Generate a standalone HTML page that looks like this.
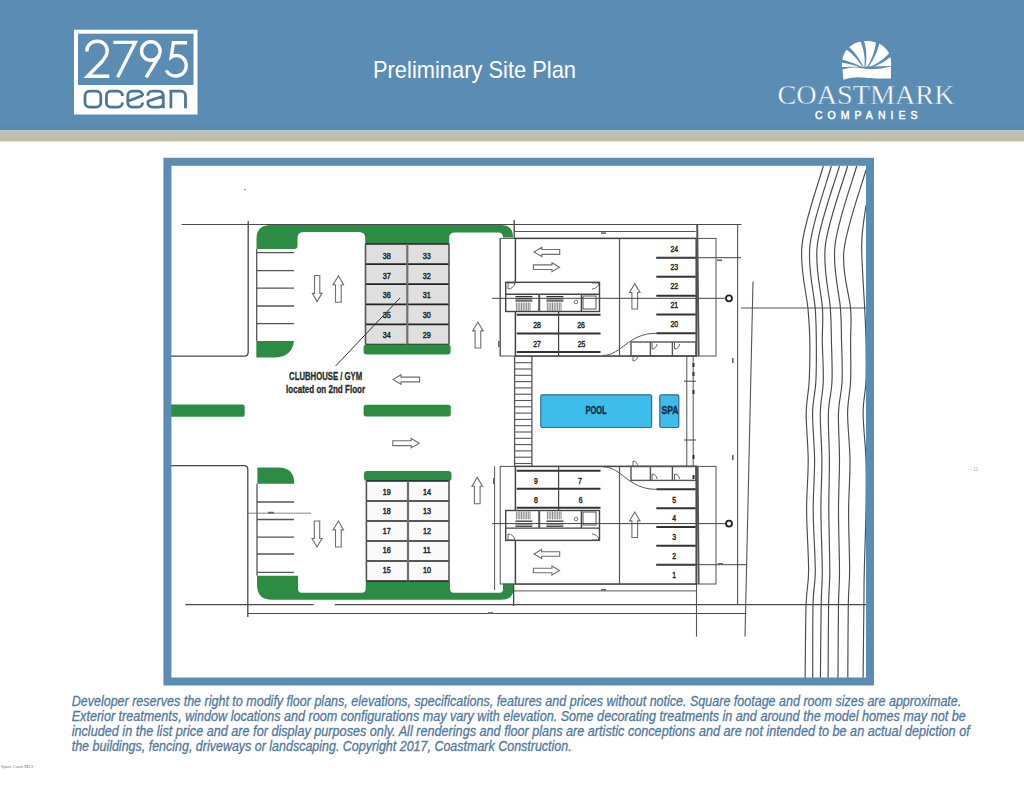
<!DOCTYPE html>
<html><head><meta charset="utf-8"><title>Preliminary Site Plan</title>
<style>
html,body{margin:0;padding:0;background:#fff;}
body{width:1024px;height:791px;overflow:hidden;position:relative;font-family:"Liberation Sans",sans-serif;}
svg{position:absolute;left:0;top:0;}
text{font-family:"Liberation Sans",sans-serif;}
.disc{position:absolute;left:0;top:0;}
</style></head><body>
<svg width="1024" height="791" viewBox="0 0 1024 791">
<rect x="0" y="0" width="1024" height="130" fill="#5b8db4"/>
<defs><linearGradient id="tg" x1="0" y1="0" x2="0" y2="1"><stop offset="0" stop-color="#b5c4b5"/><stop offset="0.45" stop-color="#c3bdb2"/><stop offset="1" stop-color="#bbbca0"/></linearGradient></defs>
<rect x="0" y="126" width="1024" height="4.4" fill="#578ab0"/>
<rect x="0" y="130.4" width="1024" height="11" fill="url(#tg)"/>
<rect x="74" y="29.7" width="123.5" height="84.8" fill="#fff"/>
<rect x="78" y="33.7" width="115.5" height="51.3" fill="#5b8db4"/>
<g fill="none" stroke="#fff" stroke-width="3.4" stroke-linecap="butt" stroke-linejoin="miter">
<path d="M86.8,51.5 C86.8,45 91.5,41.3 97.2,41.3 C103,41.3 107.2,45.5 107.2,51 C107.2,55 105,58 102,61.5 L87.5,76.3 H109.3"/>
<path d="M113.4,42.4 H135.2 L117.6,77.3"/>
<circle cx="150.8" cy="51" r="9.3"/>
<path d="M159.3,55.5 L146.2,77.3"/>
<path d="M187.1,42.7 H173.4 L171.2,57.2 C173,56 174.5,55.5 176.5,55.5 C182.2,55.5 186.2,60 186.2,65.8 C186.2,71.6 181.8,76 176,76 C171.5,76 168,73.5 166.2,70.5"/>
</g>
<g fill="none" stroke="#4b7898" stroke-width="2.8">
<rect x="85" y="91.1" width="15.8" height="16" rx="4.6"/>
<path d="M122.4,95.3 V96 C122.4,93 120.5,91.1 117.8,91.1 H111 C108.2,91.1 106.4,93 106.4,95.7 V102.5 C106.4,105.2 108.2,107.1 111,107.1 H117.8 C120.5,107.1 122.4,105.2 122.4,102.5"/>
<path d="M142.6,102.5 C142.6,105.2 140.8,107.1 138,107.1 H132.4 C129.6,107.1 127.8,105.2 127.8,102.5 V95.7 C127.8,93 129.6,91.1 132.4,91.1 H138 C140.8,91.1 142.6,93 142.6,95.7 V95.5 L127.8,101.2"/>
<path d="M147.8,95.7 C147.8,93 149.6,91.1 152.4,91.1 H158.6 C161.4,91.1 163.3,93 163.3,95.7 V108.3 M163.3,96.2 L148.5,101 C148,101.2 147.8,101.8 147.8,102.5 C147.8,105.2 149.6,107.1 152.4,107.1 H158.6 C161.4,107.1 163.3,105.2 163.3,102.5"/>
<path d="M170.9,108.3 V91.1 H180.8 C183.6,91.1 185.5,93 185.5,95.7 V108.3"/>
</g>
<text x="373" y="78" font-size="24" fill="#fff" textLength="203" lengthAdjust="spacingAndGlyphs">Preliminary Site Plan</text>
<path d="M842,67 C840.5,51 852,41 866.5,41 C881,41 892.5,50 891,66 Z" fill="#fff"/>
<polygon points="861.19,66.54 859.83,65.89 858.45,65.25 857.07,64.64 855.68,64.06 854.27,63.49 852.86,62.94 851.45,62.42 850.02,61.92 848.58,61.44 847.13,60.99 845.68,60.55 844.21,60.14 842.74,59.75 841.26,59.39 839.77,59.04 838.27,58.72 837.73,62.28 839.20,62.43 840.67,62.61 842.13,62.81 843.59,63.03 845.05,63.27 846.50,63.53 847.95,63.82 849.39,64.13 850.83,64.47 852.27,64.83 853.70,65.21 855.13,65.61 856.55,66.04 857.98,66.49 859.39,66.96 860.81,67.46" fill="#5b8db4"/>
<polygon points="862.95,66.27 862.25,64.77 861.52,63.30 860.75,61.85 859.94,60.43 859.09,59.03 858.21,57.66 857.28,56.32 856.31,55.01 855.30,53.72 854.26,52.46 853.17,51.22 852.04,50.02 850.87,48.84 849.67,47.69 848.42,46.57 847.13,45.47 844.87,48.53 846.18,49.42 847.46,50.34 848.71,51.29 849.93,52.28 851.11,53.30 852.27,54.35 853.39,55.44 854.48,56.56 855.54,57.71 856.57,58.89 857.56,60.11 858.53,61.37 859.46,62.66 860.36,63.98 861.22,65.34 862.05,66.73" fill="#5b8db4"/>
<polygon points="865.50,66.56 865.77,64.78 866.00,63.01 866.16,61.23 866.28,59.46 866.34,57.69 866.34,55.92 866.29,54.15 866.18,52.38 866.01,50.61 865.79,48.85 865.51,47.08 865.18,45.32 864.79,43.56 864.34,41.81 863.83,40.06 863.27,38.31 859.73,39.69 860.42,41.28 861.06,42.87 861.64,44.48 862.18,46.10 862.66,47.72 863.09,49.36 863.47,51.02 863.80,52.68 864.07,54.36 864.29,56.05 864.46,57.75 864.58,59.46 864.64,61.19 864.65,62.92 864.60,64.68 864.50,66.44" fill="#5b8db4"/>
<polygon points="867.91,67.29 869.03,65.82 870.10,64.33 871.12,62.81 872.09,61.27 873.02,59.70 873.89,58.10 874.72,56.48 875.49,54.84 876.22,53.17 876.89,51.47 877.52,49.75 878.10,48.00 878.62,46.23 879.09,44.43 879.51,42.61 879.88,40.76 876.12,40.24 875.94,42.01 875.71,43.76 875.43,45.50 875.10,47.22 874.71,48.92 874.28,50.61 873.80,52.29 873.26,53.95 872.67,55.60 872.03,57.23 871.34,58.85 870.60,60.45 869.80,62.04 868.95,63.61 868.05,65.17 867.09,66.71" fill="#5b8db4"/>
<polygon points="869.66,67.97 871.24,67.50 872.79,66.99 874.32,66.44 875.84,65.85 877.33,65.21 878.80,64.53 880.25,63.80 881.69,63.04 883.10,62.23 884.48,61.37 885.85,60.48 887.20,59.53 888.52,58.55 889.82,57.52 891.10,56.45 892.35,55.33 889.65,52.67 888.59,53.83 887.50,54.96 886.39,56.06 885.25,57.12 884.08,58.15 882.89,59.13 881.66,60.09 880.41,61.00 879.13,61.89 877.82,62.73 876.48,63.54 875.11,64.31 873.71,65.04 872.28,65.74 870.83,66.40 869.34,67.03" fill="#5b8db4"/>
<path d="M842.5,69.5 C850,67 856,66.8 864,68.6 C873,70.5 882,68.5 891,66.5 V78.5 C882,78.5 873,78.8 866,77.8 C857,76.5 849,77.5 843.5,80 Z" fill="#fff"/>
<text x="777.5" y="104" font-size="28" fill="#fff" font-family="Liberation Serif" textLength="177" lengthAdjust="spacingAndGlyphs" stroke="#5b8db4" stroke-width="0.45" style="font-family:'Liberation Serif',serif">COASTMARK</text>
<text x="815" y="119.3" font-size="10.5" fill="#fff" stroke="#fff" stroke-width="0.45" textLength="102.5" lengthAdjust="spacing">COMPANIES</text>
<line x1="181.6" y1="224.5" x2="741.4" y2="224.5" stroke="#4a4a4a" stroke-width="1.10"/>
<path d="M171,356.2 H244 Q248.2,356.2 248.2,352 V221" fill="none" stroke="#484848" stroke-width="1.3"/>
<path d="M171,465.6 H244 Q247.8,465.6 247.8,469.5 V617" fill="none" stroke="#484848" stroke-width="1.3"/>
<path d="M256.5,249 V239 Q256.5,225 270.5,225 H501 Q513,225 513,237.5 H503 Q503,232.5 498,232.5 H455 Q449.2,232.5 449.2,238 V244 H365.2 V238 Q365.2,232 359,232 H303.5 Q297.5,232 297.5,238 V246 Q297.5,249 294.5,249 Z" fill="#2d8c44"/>
<line x1="256.7" y1="249.0" x2="256.7" y2="341.0" stroke="#555" stroke-width="1.30"/>
<line x1="256.7" y1="252.6" x2="294.0" y2="252.6" stroke="#555" stroke-width="1.30"/>
<line x1="256.7" y1="270.7" x2="294.0" y2="270.7" stroke="#555" stroke-width="1.30"/>
<line x1="256.7" y1="288.2" x2="294.0" y2="288.2" stroke="#555" stroke-width="1.30"/>
<line x1="256.7" y1="306.0" x2="294.0" y2="306.0" stroke="#555" stroke-width="1.30"/>
<line x1="256.7" y1="323.6" x2="294.0" y2="323.6" stroke="#555" stroke-width="1.30"/>
<path d="M256.3,341 H294 Q292,357.5 274,357.5 H256.3 Z" fill="#2d8c44"/>
<rect x="365.5" y="244" width="83.5" height="100.5" fill="#dfdfdf"/>
<line x1="365.5" y1="244.0" x2="449.0" y2="244.0" stroke="#222" stroke-width="1.70"/>
<line x1="365.5" y1="264.1" x2="449.0" y2="264.1" stroke="#222" stroke-width="1.70"/>
<line x1="365.5" y1="284.2" x2="449.0" y2="284.2" stroke="#222" stroke-width="1.70"/>
<line x1="365.5" y1="304.3" x2="449.0" y2="304.3" stroke="#222" stroke-width="1.70"/>
<line x1="365.5" y1="324.4" x2="449.0" y2="324.4" stroke="#222" stroke-width="1.70"/>
<line x1="365.5" y1="344.5" x2="449.0" y2="344.5" stroke="#222" stroke-width="1.70"/>
<line x1="365.5" y1="244.0" x2="365.5" y2="344.5" stroke="#555" stroke-width="1.60"/>
<line x1="449.0" y1="244.0" x2="449.0" y2="344.5" stroke="#555" stroke-width="1.60"/>
<line x1="407.3" y1="244.0" x2="407.3" y2="344.5" stroke="#707070" stroke-width="2.20"/>
<text x="386.8" y="259.3" font-size="8.6" font-weight="normal" fill="#2a2a2a" text-anchor="middle" stroke="#2a2a2a" stroke-width="0.5" textLength="8" lengthAdjust="spacingAndGlyphs">38</text>
<text x="426.8" y="259.3" font-size="8.6" font-weight="normal" fill="#2a2a2a" text-anchor="middle" stroke="#2a2a2a" stroke-width="0.5" textLength="8" lengthAdjust="spacingAndGlyphs">33</text>
<text x="386.8" y="278.9" font-size="8.6" font-weight="normal" fill="#2a2a2a" text-anchor="middle" stroke="#2a2a2a" stroke-width="0.5" textLength="8" lengthAdjust="spacingAndGlyphs">37</text>
<text x="426.8" y="278.9" font-size="8.6" font-weight="normal" fill="#2a2a2a" text-anchor="middle" stroke="#2a2a2a" stroke-width="0.5" textLength="8" lengthAdjust="spacingAndGlyphs">32</text>
<text x="386.8" y="298.4" font-size="8.6" font-weight="normal" fill="#2a2a2a" text-anchor="middle" stroke="#2a2a2a" stroke-width="0.5" textLength="8" lengthAdjust="spacingAndGlyphs">36</text>
<text x="426.8" y="298.4" font-size="8.6" font-weight="normal" fill="#2a2a2a" text-anchor="middle" stroke="#2a2a2a" stroke-width="0.5" textLength="8" lengthAdjust="spacingAndGlyphs">31</text>
<text x="386.8" y="317.9" font-size="8.6" font-weight="normal" fill="#2a2a2a" text-anchor="middle" stroke="#2a2a2a" stroke-width="0.5" textLength="8" lengthAdjust="spacingAndGlyphs">35</text>
<text x="426.8" y="317.9" font-size="8.6" font-weight="normal" fill="#2a2a2a" text-anchor="middle" stroke="#2a2a2a" stroke-width="0.5" textLength="8" lengthAdjust="spacingAndGlyphs">30</text>
<text x="386.8" y="337.5" font-size="8.6" font-weight="normal" fill="#2a2a2a" text-anchor="middle" stroke="#2a2a2a" stroke-width="0.5" textLength="8" lengthAdjust="spacingAndGlyphs">34</text>
<text x="426.8" y="337.5" font-size="8.6" font-weight="normal" fill="#2a2a2a" text-anchor="middle" stroke="#2a2a2a" stroke-width="0.5" textLength="8" lengthAdjust="spacingAndGlyphs">29</text>
<rect x="363.6" y="344.5" width="87" height="10" rx="3" fill="#2d8c44"/>
<path d="M171,404.6 H242.5 Q244.7,404.6 244.7,406.8 V414.5 Q244.7,416.7 242.5,416.7 H171 Z" fill="#2d8c44"/>
<rect x="363.6" y="404.7" width="87.2" height="11.8" rx="2.5" fill="#2d8c44"/>
<text x="325.6" y="380.3" font-size="10.0" font-weight="bold" fill="#2a2a2a" text-anchor="middle" stroke="#2a2a2a" stroke-width="0.3" textLength="73" lengthAdjust="spacingAndGlyphs">CLUBHOUSE / GYM</text>
<text x="325.6" y="393.0" font-size="10.0" font-weight="bold" fill="#2a2a2a" text-anchor="middle" stroke="#2a2a2a" stroke-width="0.3" textLength="79" lengthAdjust="spacingAndGlyphs">located on 2nd Floor</text>
<line x1="335.7" y1="365.9" x2="400.0" y2="298.0" stroke="#333" stroke-width="1.00"/>
<polygon points="317.1,301.6 322.0,293.4 319.8,293.4 319.8,275.5 314.5,275.5 314.5,293.4 312.3,293.4" fill="#fff" stroke="#6e6e6e" stroke-width="1.1"/>
<polygon points="338.4,275.8 343.6,284.7 341.2,284.7 341.2,302.2 335.5,302.2 335.5,284.7 333.1,284.7" fill="#fff" stroke="#6e6e6e" stroke-width="1.1"/>
<polygon points="393.0,379.5 401.0,374.8 401.0,377.1 419.6,377.1 419.6,381.9 401.0,381.9 401.0,384.2" fill="#fff" stroke="#6e6e6e" stroke-width="1.1"/>
<polygon points="419.2,443.2 411.2,438.5 411.2,440.8 392.8,440.8 392.8,445.6 411.2,445.6 411.2,447.9" fill="#fff" stroke="#6e6e6e" stroke-width="1.1"/>
<polygon points="477.9,322.0 483.2,330.9 480.8,330.9 480.8,348.0 475.1,348.0 475.1,330.9 472.7,330.9" fill="#fff" stroke="#6e6e6e" stroke-width="1.1"/>
<polygon points="477.2,477.4 482.5,486.3 480.1,486.3 480.1,503.7 474.4,503.7 474.4,486.3 472.0,486.3" fill="#fff" stroke="#6e6e6e" stroke-width="1.1"/>
<polygon points="317.0,547.0 322.0,538.5 319.7,538.5 319.7,521.0 314.3,521.0 314.3,538.5 312.0,538.5" fill="#fff" stroke="#6e6e6e" stroke-width="1.1"/>
<polygon points="338.4,521.0 343.6,529.9 341.2,529.9 341.2,547.0 335.5,547.0 335.5,529.9 333.1,529.9" fill="#fff" stroke="#6e6e6e" stroke-width="1.1"/>
<path d="M257.4,483.7 V467.5 H278 Q294.3,467.5 294.3,483.7 Z" fill="#2d8c44"/>
<line x1="257.0" y1="483.7" x2="257.0" y2="575.8" stroke="#555" stroke-width="1.30"/>
<line x1="257.0" y1="502.0" x2="294.0" y2="502.0" stroke="#555" stroke-width="1.30"/>
<line x1="257.0" y1="519.5" x2="294.0" y2="519.5" stroke="#555" stroke-width="1.30"/>
<line x1="257.0" y1="537.1" x2="294.0" y2="537.1" stroke="#555" stroke-width="1.30"/>
<line x1="257.0" y1="554.0" x2="294.0" y2="554.0" stroke="#555" stroke-width="1.30"/>
<line x1="257.0" y1="572.3" x2="294.0" y2="572.3" stroke="#555" stroke-width="1.30"/>
<line x1="247.0" y1="513.2" x2="311.0" y2="513.2" stroke="#666" stroke-width="0.80"/>
<path d="M257,575.8 H298 V588.7 Q298,592.7 302,592.7 H361.7 Q365.7,592.7 365.7,588.7 V581 H450 V588.7 Q450,592.7 454,592.7 H500 Q503,592.7 503,589 V583.5 H514 V587 Q514,599.7 501,599.7 H272 Q257,599.7 257,585 Z" fill="#2d8c44"/>
<rect x="364" y="471" width="87.5" height="10" rx="3" fill="#2d8c44"/>
<rect x="366.4" y="481" width="82.6" height="100" fill="#fafafa"/>
<line x1="366.4" y1="481.0" x2="449.0" y2="481.0" stroke="#222" stroke-width="1.70"/>
<line x1="366.4" y1="501.0" x2="449.0" y2="501.0" stroke="#222" stroke-width="1.70"/>
<line x1="366.4" y1="521.0" x2="449.0" y2="521.0" stroke="#222" stroke-width="1.70"/>
<line x1="366.4" y1="541.0" x2="449.0" y2="541.0" stroke="#222" stroke-width="1.70"/>
<line x1="366.4" y1="561.0" x2="449.0" y2="561.0" stroke="#222" stroke-width="1.70"/>
<line x1="366.4" y1="581.0" x2="449.0" y2="581.0" stroke="#222" stroke-width="1.70"/>
<line x1="366.4" y1="481.0" x2="366.4" y2="581.0" stroke="#555" stroke-width="1.60"/>
<line x1="449.0" y1="481.0" x2="449.0" y2="581.0" stroke="#555" stroke-width="1.60"/>
<line x1="408.0" y1="481.0" x2="408.0" y2="581.0" stroke="#707070" stroke-width="2.20"/>
<text x="386.8" y="494.9" font-size="8.6" font-weight="normal" fill="#2a2a2a" text-anchor="middle" stroke="#2a2a2a" stroke-width="0.5" textLength="8" lengthAdjust="spacingAndGlyphs">19</text>
<text x="426.9" y="494.9" font-size="8.6" font-weight="normal" fill="#2a2a2a" text-anchor="middle" stroke="#2a2a2a" stroke-width="0.5" textLength="8" lengthAdjust="spacingAndGlyphs">14</text>
<text x="386.8" y="514.4" font-size="8.6" font-weight="normal" fill="#2a2a2a" text-anchor="middle" stroke="#2a2a2a" stroke-width="0.5" textLength="8" lengthAdjust="spacingAndGlyphs">18</text>
<text x="426.9" y="514.4" font-size="8.6" font-weight="normal" fill="#2a2a2a" text-anchor="middle" stroke="#2a2a2a" stroke-width="0.5" textLength="8" lengthAdjust="spacingAndGlyphs">13</text>
<text x="386.8" y="533.9" font-size="8.6" font-weight="normal" fill="#2a2a2a" text-anchor="middle" stroke="#2a2a2a" stroke-width="0.5" textLength="8" lengthAdjust="spacingAndGlyphs">17</text>
<text x="426.9" y="533.9" font-size="8.6" font-weight="normal" fill="#2a2a2a" text-anchor="middle" stroke="#2a2a2a" stroke-width="0.5" textLength="8" lengthAdjust="spacingAndGlyphs">12</text>
<text x="386.8" y="553.4" font-size="8.6" font-weight="normal" fill="#2a2a2a" text-anchor="middle" stroke="#2a2a2a" stroke-width="0.5" textLength="8" lengthAdjust="spacingAndGlyphs">16</text>
<text x="426.9" y="553.4" font-size="8.6" font-weight="normal" fill="#2a2a2a" text-anchor="middle" stroke="#2a2a2a" stroke-width="0.5" textLength="8" lengthAdjust="spacingAndGlyphs">11</text>
<text x="386.8" y="572.9" font-size="8.6" font-weight="normal" fill="#2a2a2a" text-anchor="middle" stroke="#2a2a2a" stroke-width="0.5" textLength="8" lengthAdjust="spacingAndGlyphs">15</text>
<text x="426.9" y="572.9" font-size="8.6" font-weight="normal" fill="#2a2a2a" text-anchor="middle" stroke="#2a2a2a" stroke-width="0.5" textLength="8" lengthAdjust="spacingAndGlyphs">10</text>
<line x1="185.3" y1="604.6" x2="313.7" y2="604.6" stroke="#4a4a4a" stroke-width="1.10"/>
<line x1="334.8" y1="604.6" x2="866.0" y2="604.6" stroke="#4a4a4a" stroke-width="1.10"/>
<line x1="247.0" y1="613.5" x2="746.3" y2="613.5" stroke="#4a4a4a" stroke-width="1.10"/>
<line x1="737.6" y1="224.0" x2="737.6" y2="604.2" stroke="#555" stroke-width="1.10"/>
<line x1="753.0" y1="281.6" x2="745.0" y2="636.6" stroke="#555" stroke-width="1.10"/>
<line x1="741.0" y1="308.0" x2="866.0" y2="308.0" stroke="#555" stroke-width="1.10"/>
<line x1="696.5" y1="584.0" x2="696.5" y2="636.6" stroke="#555" stroke-width="1.10"/>
<rect x="500.2" y="238.4" width="215.8" height="117.6" fill="none" stroke="#555" stroke-width="1"/>
<rect x="515.4" y="238.4" width="180.8" height="117.6" fill="#fff" stroke="#444" stroke-width="1.5"/>
<line x1="619.5" y1="238.4" x2="619.5" y2="356.0" stroke="#555" stroke-width="1.20"/>
<line x1="656.3" y1="257.7" x2="695.7" y2="257.7" stroke="#333" stroke-width="2.00"/>
<line x1="656.3" y1="276.7" x2="695.7" y2="276.7" stroke="#333" stroke-width="2.00"/>
<line x1="656.3" y1="295.8" x2="695.7" y2="295.8" stroke="#333" stroke-width="2.00"/>
<line x1="656.3" y1="314.5" x2="695.7" y2="314.5" stroke="#333" stroke-width="2.00"/>
<line x1="656.3" y1="333.3" x2="695.7" y2="333.3" stroke="#333" stroke-width="2.00"/>
<text x="674.2" y="251.6" font-size="9.4" font-weight="normal" fill="#222" text-anchor="middle" stroke="#222" stroke-width="0.45" textLength="7.6" lengthAdjust="spacingAndGlyphs">24</text>
<text x="674.2" y="270.1" font-size="9.4" font-weight="normal" fill="#222" text-anchor="middle" stroke="#222" stroke-width="0.45" textLength="7.6" lengthAdjust="spacingAndGlyphs">23</text>
<text x="674.2" y="289.1" font-size="9.4" font-weight="normal" fill="#222" text-anchor="middle" stroke="#222" stroke-width="0.45" textLength="7.6" lengthAdjust="spacingAndGlyphs">22</text>
<text x="674.2" y="307.6" font-size="9.4" font-weight="normal" fill="#222" text-anchor="middle" stroke="#222" stroke-width="0.45" textLength="7.6" lengthAdjust="spacingAndGlyphs">21</text>
<text x="674.2" y="326.6" font-size="9.4" font-weight="normal" fill="#222" text-anchor="middle" stroke="#222" stroke-width="0.45" textLength="7.6" lengthAdjust="spacingAndGlyphs">20</text>
<line x1="514.0" y1="231.5" x2="695.7" y2="231.5" stroke="#555" stroke-width="1.00"/>
<rect x="505.7" y="282.3" width="93.8" height="29.2" fill="#fff" stroke="#444" stroke-width="1.4"/>
<line x1="505.7" y1="294.3" x2="599.5" y2="294.3" stroke="#444" stroke-width="1.40"/>
<line x1="516.4" y1="302.5" x2="516.4" y2="311.0" stroke="#555" stroke-width="0.70"/>
<line x1="518.1" y1="302.5" x2="518.1" y2="311.0" stroke="#555" stroke-width="0.70"/>
<line x1="519.8" y1="302.5" x2="519.8" y2="311.0" stroke="#555" stroke-width="0.70"/>
<line x1="521.5" y1="302.5" x2="521.5" y2="311.0" stroke="#555" stroke-width="0.70"/>
<line x1="523.2" y1="302.5" x2="523.2" y2="311.0" stroke="#555" stroke-width="0.70"/>
<line x1="524.9" y1="302.5" x2="524.9" y2="311.0" stroke="#555" stroke-width="0.70"/>
<line x1="526.6" y1="302.5" x2="526.6" y2="311.0" stroke="#555" stroke-width="0.70"/>
<line x1="528.3" y1="302.5" x2="528.3" y2="311.0" stroke="#555" stroke-width="0.70"/>
<line x1="530.0" y1="302.5" x2="530.0" y2="311.0" stroke="#555" stroke-width="0.70"/>
<line x1="515.4" y1="296.6" x2="532.4" y2="296.6" stroke="#333" stroke-width="1.30"/>
<line x1="515.4" y1="298.8" x2="532.4" y2="298.8" stroke="#333" stroke-width="1.30"/>
<line x1="515.4" y1="300.9" x2="532.4" y2="300.9" stroke="#333" stroke-width="1.30"/>
<line x1="547.4" y1="302.5" x2="547.4" y2="311.0" stroke="#555" stroke-width="0.70"/>
<line x1="549.1" y1="302.5" x2="549.1" y2="311.0" stroke="#555" stroke-width="0.70"/>
<line x1="550.8" y1="302.5" x2="550.8" y2="311.0" stroke="#555" stroke-width="0.70"/>
<line x1="552.5" y1="302.5" x2="552.5" y2="311.0" stroke="#555" stroke-width="0.70"/>
<line x1="554.2" y1="302.5" x2="554.2" y2="311.0" stroke="#555" stroke-width="0.70"/>
<line x1="555.9" y1="302.5" x2="555.9" y2="311.0" stroke="#555" stroke-width="0.70"/>
<line x1="557.6" y1="302.5" x2="557.6" y2="311.0" stroke="#555" stroke-width="0.70"/>
<line x1="559.3" y1="302.5" x2="559.3" y2="311.0" stroke="#555" stroke-width="0.70"/>
<line x1="561.0" y1="302.5" x2="561.0" y2="311.0" stroke="#555" stroke-width="0.70"/>
<line x1="546.4" y1="296.6" x2="563.4" y2="296.6" stroke="#333" stroke-width="1.30"/>
<line x1="546.4" y1="298.8" x2="563.4" y2="298.8" stroke="#333" stroke-width="1.30"/>
<line x1="546.4" y1="300.9" x2="563.4" y2="300.9" stroke="#333" stroke-width="1.30"/>
<line x1="539.2" y1="294.3" x2="539.2" y2="311.5" stroke="#555" stroke-width="2.00"/>
<line x1="581.4" y1="294.3" x2="581.4" y2="311.5" stroke="#444" stroke-width="1.40"/>
<rect x="583" y="296" width="13" height="13" fill="none" stroke="#555" stroke-width="1"/>
<circle cx="576" cy="302" r="1.8" fill="none" stroke="#555" stroke-width="0.8"/>
<line x1="516.7" y1="314.8" x2="600.5" y2="314.8" stroke="#333" stroke-width="2.00"/>
<line x1="516.7" y1="333.6" x2="600.5" y2="333.6" stroke="#333" stroke-width="2.00"/>
<line x1="516.7" y1="352.1" x2="600.5" y2="352.1" stroke="#333" stroke-width="2.00"/>
<line x1="558.6" y1="311.5" x2="558.6" y2="356.0" stroke="#444" stroke-width="1.20"/>
<text x="537.0" y="328.1" font-size="9.4" font-weight="normal" fill="#222" text-anchor="middle" stroke="#222" stroke-width="0.45" textLength="7.6" lengthAdjust="spacingAndGlyphs">28</text>
<text x="581.0" y="328.1" font-size="9.4" font-weight="normal" fill="#222" text-anchor="middle" stroke="#222" stroke-width="0.45" textLength="7.6" lengthAdjust="spacingAndGlyphs">26</text>
<text x="537.0" y="347.1" font-size="9.4" font-weight="normal" fill="#222" text-anchor="middle" stroke="#222" stroke-width="0.45" textLength="7.6" lengthAdjust="spacingAndGlyphs">27</text>
<text x="581.6" y="347.1" font-size="9.4" font-weight="normal" fill="#222" text-anchor="middle" stroke="#222" stroke-width="0.45" textLength="7.6" lengthAdjust="spacingAndGlyphs">25</text>
<path d="M603,355.5 C622,355 628,333.3 656,333.3" fill="none" stroke="#555" stroke-width="1"/>
<rect x="631" y="342" width="65" height="14" fill="none" stroke="#555" stroke-width="1.4"/>
<line x1="650.4" y1="342.0" x2="650.4" y2="356.0" stroke="#555" stroke-width="1.40"/>
<line x1="672.4" y1="342.0" x2="672.4" y2="356.0" stroke="#555" stroke-width="1.40"/>
<polygon points="534.0,252.0 541.9,247.3 541.9,249.5 559.7,249.5 559.7,254.4 541.9,254.4 541.9,256.6" fill="#fff" stroke="#6e6e6e" stroke-width="1.1"/>
<polygon points="559.5,267.2 552.0,262.8 552.0,264.9 533.4,264.9 533.4,269.5 552.0,269.5 552.0,271.6" fill="#fff" stroke="#6e6e6e" stroke-width="1.1"/>
<polygon points="634.8,283.6 640.0,292.5 637.6,292.5 637.6,309.0 631.9,309.0 631.9,292.5 629.5,292.5" fill="#fff" stroke="#6e6e6e" stroke-width="1.1"/>
<line x1="492.0" y1="298.3" x2="725.0" y2="298.3" stroke="#444" stroke-width="1.00"/>
<circle cx="729" cy="298.3" r="3" fill="#fff" stroke="#222" stroke-width="1.8"/>
<line x1="656.0" y1="257.7" x2="741.0" y2="257.7" stroke="#444" stroke-width="1.00"/>
<line x1="500.2" y1="238.4" x2="500.2" y2="356.0" stroke="#555" stroke-width="1.00"/>
<line x1="514.6" y1="356.4" x2="514.6" y2="466.4" stroke="#555" stroke-width="1.30"/>
<line x1="531.9" y1="356.4" x2="531.9" y2="466.4" stroke="#555" stroke-width="1.30"/>
<line x1="514.6" y1="356.4" x2="531.9" y2="356.4" stroke="#555" stroke-width="1.10"/>
<line x1="514.6" y1="362.7" x2="531.9" y2="362.7" stroke="#555" stroke-width="1.10"/>
<line x1="514.6" y1="369.0" x2="531.9" y2="369.0" stroke="#555" stroke-width="1.10"/>
<line x1="514.6" y1="375.3" x2="531.9" y2="375.3" stroke="#555" stroke-width="1.10"/>
<line x1="514.6" y1="381.6" x2="531.9" y2="381.6" stroke="#555" stroke-width="1.10"/>
<line x1="514.6" y1="387.9" x2="531.9" y2="387.9" stroke="#555" stroke-width="1.10"/>
<line x1="514.6" y1="394.2" x2="531.9" y2="394.2" stroke="#555" stroke-width="1.10"/>
<line x1="514.6" y1="400.5" x2="531.9" y2="400.5" stroke="#555" stroke-width="1.10"/>
<line x1="514.6" y1="406.8" x2="531.9" y2="406.8" stroke="#555" stroke-width="1.10"/>
<line x1="514.6" y1="413.1" x2="531.9" y2="413.1" stroke="#555" stroke-width="1.10"/>
<line x1="514.6" y1="419.4" x2="531.9" y2="419.4" stroke="#555" stroke-width="1.10"/>
<line x1="514.6" y1="425.7" x2="531.9" y2="425.7" stroke="#555" stroke-width="1.10"/>
<line x1="514.6" y1="432.0" x2="531.9" y2="432.0" stroke="#555" stroke-width="1.10"/>
<line x1="514.6" y1="438.3" x2="531.9" y2="438.3" stroke="#555" stroke-width="1.10"/>
<line x1="514.6" y1="444.6" x2="531.9" y2="444.6" stroke="#555" stroke-width="1.10"/>
<line x1="514.6" y1="450.9" x2="531.9" y2="450.9" stroke="#555" stroke-width="1.10"/>
<line x1="514.6" y1="457.2" x2="531.9" y2="457.2" stroke="#555" stroke-width="1.10"/>
<line x1="514.6" y1="463.5" x2="531.9" y2="463.5" stroke="#555" stroke-width="1.10"/>
<line x1="686.8" y1="356.0" x2="686.8" y2="466.4" stroke="#555" stroke-width="1.00"/>
<line x1="693.2" y1="356.0" x2="693.2" y2="466.4" stroke="#555" stroke-width="1.00"/>
<rect x="540.8" y="394.8" width="110.8" height="32.7" rx="1.5" fill="#3ebcea" stroke="#2e6d8e" stroke-width="1.2"/>
<rect x="659.8" y="394.8" width="19" height="32.7" rx="1.5" fill="#3ebcea" stroke="#2e6d8e" stroke-width="1.2"/>
<text x="596.0" y="413.9" font-size="10.0" font-weight="bold" fill="#15304a" text-anchor="middle" stroke="#15304a" stroke-width="0.4" textLength="21" lengthAdjust="spacingAndGlyphs">POOL</text>
<text x="670.0" y="413.9" font-size="10.0" font-weight="bold" fill="#15304a" text-anchor="middle" stroke="#15304a" stroke-width="0.4" textLength="17" lengthAdjust="spacingAndGlyphs">SPA</text>
<rect x="500.2" y="466.4" width="215.8" height="117.6" fill="none" stroke="#555" stroke-width="1"/>
<rect x="515.4" y="466.4" width="180.8" height="117.6" fill="#fff" stroke="#444" stroke-width="1.5"/>
<line x1="619.5" y1="466.4" x2="619.5" y2="584.0" stroke="#555" stroke-width="1.20"/>
<line x1="656.3" y1="489.3" x2="695.7" y2="489.3" stroke="#333" stroke-width="2.00"/>
<line x1="656.3" y1="508.3" x2="695.7" y2="508.3" stroke="#333" stroke-width="2.00"/>
<line x1="656.3" y1="526.9" x2="695.7" y2="526.9" stroke="#333" stroke-width="2.00"/>
<line x1="656.3" y1="545.7" x2="695.7" y2="545.7" stroke="#333" stroke-width="2.00"/>
<line x1="656.3" y1="564.7" x2="695.7" y2="564.7" stroke="#333" stroke-width="2.00"/>
<text x="674.2" y="502.6" font-size="9.4" font-weight="normal" fill="#222" text-anchor="middle" stroke="#222" stroke-width="0.45" textLength="3.8" lengthAdjust="spacingAndGlyphs">5</text>
<text x="674.2" y="521.1" font-size="9.4" font-weight="normal" fill="#222" text-anchor="middle" stroke="#222" stroke-width="0.45" textLength="3.8" lengthAdjust="spacingAndGlyphs">4</text>
<text x="674.2" y="540.1" font-size="9.4" font-weight="normal" fill="#222" text-anchor="middle" stroke="#222" stroke-width="0.45" textLength="3.8" lengthAdjust="spacingAndGlyphs">3</text>
<text x="674.2" y="558.6" font-size="9.4" font-weight="normal" fill="#222" text-anchor="middle" stroke="#222" stroke-width="0.45" textLength="3.8" lengthAdjust="spacingAndGlyphs">2</text>
<text x="674.2" y="577.6" font-size="9.4" font-weight="normal" fill="#222" text-anchor="middle" stroke="#222" stroke-width="0.45" textLength="3.8" lengthAdjust="spacingAndGlyphs">1</text>
<line x1="516.7" y1="470.7" x2="600.5" y2="470.7" stroke="#333" stroke-width="2.00"/>
<line x1="516.7" y1="488.8" x2="600.5" y2="488.8" stroke="#333" stroke-width="2.00"/>
<line x1="516.7" y1="507.8" x2="600.5" y2="507.8" stroke="#333" stroke-width="2.00"/>
<line x1="558.6" y1="466.4" x2="558.6" y2="510.9" stroke="#444" stroke-width="1.20"/>
<text x="536.0" y="483.6" font-size="9.4" font-weight="normal" fill="#222" text-anchor="middle" stroke="#222" stroke-width="0.45" textLength="3.8" lengthAdjust="spacingAndGlyphs">9</text>
<text x="580.0" y="483.6" font-size="9.4" font-weight="normal" fill="#222" text-anchor="middle" stroke="#222" stroke-width="0.45" textLength="3.8" lengthAdjust="spacingAndGlyphs">7</text>
<text x="536.0" y="502.6" font-size="9.4" font-weight="normal" fill="#222" text-anchor="middle" stroke="#222" stroke-width="0.45" textLength="3.8" lengthAdjust="spacingAndGlyphs">8</text>
<text x="580.6" y="502.6" font-size="9.4" font-weight="normal" fill="#222" text-anchor="middle" stroke="#222" stroke-width="0.45" textLength="3.8" lengthAdjust="spacingAndGlyphs">6</text>
<rect x="505.7" y="510.5" width="93.8" height="29.9" fill="#fff" stroke="#444" stroke-width="1.4"/>
<line x1="505.7" y1="528.1" x2="599.5" y2="528.1" stroke="#444" stroke-width="1.40"/>
<line x1="516.4" y1="511.5" x2="516.4" y2="519.3" stroke="#555" stroke-width="0.70"/>
<line x1="518.1" y1="511.5" x2="518.1" y2="519.3" stroke="#555" stroke-width="0.70"/>
<line x1="519.8" y1="511.5" x2="519.8" y2="519.3" stroke="#555" stroke-width="0.70"/>
<line x1="521.5" y1="511.5" x2="521.5" y2="519.3" stroke="#555" stroke-width="0.70"/>
<line x1="523.2" y1="511.5" x2="523.2" y2="519.3" stroke="#555" stroke-width="0.70"/>
<line x1="524.9" y1="511.5" x2="524.9" y2="519.3" stroke="#555" stroke-width="0.70"/>
<line x1="526.6" y1="511.5" x2="526.6" y2="519.3" stroke="#555" stroke-width="0.70"/>
<line x1="528.3" y1="511.5" x2="528.3" y2="519.3" stroke="#555" stroke-width="0.70"/>
<line x1="530.0" y1="511.5" x2="530.0" y2="519.3" stroke="#555" stroke-width="0.70"/>
<line x1="515.4" y1="521.2" x2="532.4" y2="521.2" stroke="#333" stroke-width="1.30"/>
<line x1="515.4" y1="523.8" x2="532.4" y2="523.8" stroke="#333" stroke-width="1.30"/>
<line x1="515.4" y1="526.2" x2="532.4" y2="526.2" stroke="#333" stroke-width="1.30"/>
<line x1="547.4" y1="511.5" x2="547.4" y2="519.3" stroke="#555" stroke-width="0.70"/>
<line x1="549.1" y1="511.5" x2="549.1" y2="519.3" stroke="#555" stroke-width="0.70"/>
<line x1="550.8" y1="511.5" x2="550.8" y2="519.3" stroke="#555" stroke-width="0.70"/>
<line x1="552.5" y1="511.5" x2="552.5" y2="519.3" stroke="#555" stroke-width="0.70"/>
<line x1="554.2" y1="511.5" x2="554.2" y2="519.3" stroke="#555" stroke-width="0.70"/>
<line x1="555.9" y1="511.5" x2="555.9" y2="519.3" stroke="#555" stroke-width="0.70"/>
<line x1="557.6" y1="511.5" x2="557.6" y2="519.3" stroke="#555" stroke-width="0.70"/>
<line x1="559.3" y1="511.5" x2="559.3" y2="519.3" stroke="#555" stroke-width="0.70"/>
<line x1="561.0" y1="511.5" x2="561.0" y2="519.3" stroke="#555" stroke-width="0.70"/>
<line x1="546.4" y1="521.2" x2="563.4" y2="521.2" stroke="#333" stroke-width="1.30"/>
<line x1="546.4" y1="523.8" x2="563.4" y2="523.8" stroke="#333" stroke-width="1.30"/>
<line x1="546.4" y1="526.2" x2="563.4" y2="526.2" stroke="#333" stroke-width="1.30"/>
<line x1="539.2" y1="510.5" x2="539.2" y2="528.1" stroke="#555" stroke-width="2.00"/>
<line x1="581.4" y1="510.5" x2="581.4" y2="528.1" stroke="#444" stroke-width="1.40"/>
<rect x="583" y="512" width="13" height="13" fill="none" stroke="#555" stroke-width="1"/>
<circle cx="576" cy="519" r="1.8" fill="none" stroke="#555" stroke-width="0.8"/>
<path d="M603,466.8 C622,467 628,489.3 656,489.3" fill="none" stroke="#555" stroke-width="1"/>
<rect x="631" y="466.4" width="65" height="14" fill="none" stroke="#555" stroke-width="1.4"/>
<line x1="650.4" y1="466.4" x2="650.4" y2="480.4" stroke="#555" stroke-width="1.40"/>
<line x1="672.4" y1="466.4" x2="672.4" y2="480.4" stroke="#555" stroke-width="1.40"/>
<polygon points="534.0,554.0 541.6,549.5 541.6,551.7 559.7,551.7 559.7,556.3 541.6,556.3 541.6,558.5" fill="#fff" stroke="#6e6e6e" stroke-width="1.1"/>
<polygon points="559.5,570.5 551.9,566.0 551.9,568.2 533.4,568.2 533.4,572.8 551.9,572.8 551.9,575.0" fill="#fff" stroke="#6e6e6e" stroke-width="1.1"/>
<polygon points="634.8,512.0 640.0,520.9 637.6,520.9 637.6,537.5 631.9,537.5 631.9,520.9 629.5,520.9" fill="#fff" stroke="#6e6e6e" stroke-width="1.1"/>
<line x1="492.0" y1="523.6" x2="725.0" y2="523.6" stroke="#444" stroke-width="1.00"/>
<circle cx="729" cy="523.6" r="3" fill="#fff" stroke="#222" stroke-width="1.8"/>
<line x1="656.0" y1="564.7" x2="746.5" y2="564.7" stroke="#444" stroke-width="1.00"/>
<line x1="494.6" y1="466.4" x2="494.6" y2="590.0" stroke="#555" stroke-width="1.00"/>
<line x1="513.0" y1="590.9" x2="696.0" y2="590.9" stroke="#555" stroke-width="1.00"/>
<path d="M823.3,166.0 C819.8,179.2 804.5,221.2 802.0,245.0 C799.5,268.8 806.7,293.2 808.0,309.0 C809.3,324.8 809.6,328.0 809.8,340.0 C810.0,352.0 809.8,368.8 809.2,381.0 C808.6,393.2 806.4,399.8 806.2,413.0 C806.0,426.2 808.1,443.7 808.2,460.0 C808.3,476.3 806.5,492.5 806.6,511.0 C806.7,529.5 808.7,555.5 808.6,571.0 C808.5,586.5 806.7,586.2 806.1,604.0 C805.5,621.8 805.3,665.7 805.1,678.0" fill="none" stroke="#4a4a4a" stroke-width="1.15"/>
<path d="M831.4,166.0 C827.8,179.2 812.7,221.2 810.0,245.0 C807.3,268.8 814.2,293.2 815.3,309.0 C816.3,324.8 816.2,328.0 816.3,340.0 C816.4,352.0 816.5,368.8 815.9,381.0 C815.3,393.2 812.8,399.8 812.6,413.0 C812.4,426.2 814.5,443.7 814.6,460.0 C814.7,476.3 813.1,492.5 813.2,511.0 C813.3,529.5 815.3,555.5 815.3,571.0 C815.3,586.5 813.4,586.2 813.0,604.0 C812.6,621.8 812.8,665.7 812.7,678.0" fill="none" stroke="#4a4a4a" stroke-width="1.15"/>
<path d="M839.5,166.0 C835.8,179.2 820.1,221.2 817.3,245.0 C814.5,268.8 821.7,293.2 822.5,309.0 C823.3,324.8 822.2,328.0 822.3,340.0 C822.4,352.0 823.6,368.8 823.3,381.0 C823.0,393.2 820.5,399.8 820.3,413.0 C820.1,426.2 821.8,443.7 821.9,460.0 C822.0,476.3 820.8,492.5 820.9,511.0 C821.0,529.5 822.2,555.5 822.3,571.0 C822.3,586.5 821.5,586.2 821.2,604.0 C820.9,621.8 820.5,665.7 820.4,678.0" fill="none" stroke="#4a4a4a" stroke-width="1.15"/>
<path d="M847.6,166.0 C843.9,179.2 828.3,221.2 825.4,245.0 C822.5,268.8 829.4,293.2 830.4,309.0 C831.4,324.8 831.1,328.0 831.4,340.0 C831.7,352.0 832.5,368.8 832.0,381.0 C831.5,393.2 828.8,399.8 828.4,413.0 C828.0,426.2 829.3,443.7 829.4,460.0 C829.5,476.3 828.7,492.5 828.8,511.0 C828.9,529.5 829.8,555.5 829.8,571.0 C829.8,586.5 828.9,586.2 828.6,604.0 C828.3,621.8 828.2,665.7 828.1,678.0" fill="none" stroke="#4a4a4a" stroke-width="1.15"/>
<path d="M856.7,166.0 C853.1,179.2 837.7,221.2 835.0,245.0 C832.3,268.8 839.4,293.2 840.5,309.0 C841.6,324.8 841.2,328.0 841.5,340.0 C841.8,352.0 842.6,368.8 842.1,381.0 C841.6,393.2 838.9,399.8 838.5,413.0 C838.1,426.2 839.5,443.7 839.5,460.0 C839.5,476.3 838.5,492.5 838.5,511.0 C838.5,529.5 839.5,555.5 839.5,571.0 C839.5,586.5 838.8,586.2 838.5,604.0 C838.2,621.8 838.1,665.7 838.0,678.0" fill="none" stroke="#4a4a4a" stroke-width="1.15"/>
<path d="M866.0,170.0 C862.3,183.3 846.6,226.8 844.0,250.0 C841.4,273.2 849.5,294.0 850.6,309.0 C851.7,324.0 850.6,328.0 850.6,340.0 C850.6,352.0 851.1,368.8 850.6,381.0 C850.1,393.2 847.7,399.8 847.6,413.0 C847.5,426.2 849.8,443.7 850.0,460.0 C850.2,476.3 848.7,492.5 848.6,511.0 C848.5,529.5 849.7,555.5 849.6,571.0 C849.5,586.5 848.6,586.2 848.3,604.0 C848.0,621.8 847.9,665.7 847.8,678.0" fill="none" stroke="#4a4a4a" stroke-width="1.15"/>
<path d="M866.0,205.0 C865.3,211.7 861.9,227.7 861.7,245.0 C861.5,262.3 864.0,293.2 864.7,309.0 C865.4,324.8 865.8,328.0 866.0,340.0 C866.2,352.0 866.5,368.8 866.0,381.0 C865.5,393.2 863.1,399.8 863.1,413.0 C863.1,426.2 865.5,443.7 866.0,460.0 C866.5,476.3 866.3,492.5 866.0,511.0 C865.7,529.5 864.6,555.5 864.3,571.0 C863.9,586.5 864.1,586.2 863.9,604.0 C863.7,621.8 863.2,665.7 863.1,678.0" fill="none" stroke="#4a4a4a" stroke-width="1.15"/>
<line x1="697.2" y1="224.5" x2="698.6" y2="356.0" stroke="#555" stroke-width="2.00"/>
<line x1="697.6" y1="466.4" x2="698.6" y2="584.0" stroke="#555" stroke-width="2.00"/>
<line x1="684.0" y1="381.2" x2="696.0" y2="381.2" stroke="#444" stroke-width="1.00"/>
<line x1="684.0" y1="440.0" x2="696.0" y2="440.0" stroke="#444" stroke-width="1.00"/>
<rect x="692.5" y="363.0" width="2" height="4" fill="#333"/>
<rect x="692.5" y="372.0" width="2" height="4" fill="#333"/>
<rect x="692.5" y="390.0" width="2" height="4" fill="#333"/>
<rect x="692.5" y="455.0" width="2" height="4" fill="#333"/>
<rect x="692.5" y="475.0" width="2" height="4" fill="#333"/>
<path d="M652.0,343 v6 a5,5 0 0 0 5,-5" fill="none" stroke="#555" stroke-width="0.9"/>
<path d="M674.5,343 v6 a5,5 0 0 0 5,-5" fill="none" stroke="#555" stroke-width="0.9"/>
<path d="M633,356 v5 a4.5,4.5 0 0 0 4.5,-4.5" fill="none" stroke="#555" stroke-width="0.9"/>
<path d="M652.0,480 v-6 a5,5 0 0 1 5,5" fill="none" stroke="#555" stroke-width="0.9"/>
<path d="M674.5,480 v-6 a5,5 0 0 1 5,5" fill="none" stroke="#555" stroke-width="0.9"/>
<path d="M633,466 v-5 a4.5,4.5 0 0 1 4.5,4.5" fill="none" stroke="#555" stroke-width="0.9"/>
<path d="M508,283 h7 a7,7 0 0 1 -7,6 z" fill="none" stroke="#555" stroke-width="0.9"/>
<path d="M592,283 h7 a7,7 0 0 1 -7,6" fill="none" stroke="#555" stroke-width="0.9"/>
<path d="M508,540 h7 a7,7 0 0 0 -7,-6 z" fill="none" stroke="#555" stroke-width="0.9"/>
<path d="M592,540 h7 a7,7 0 0 0 -7,-6" fill="none" stroke="#555" stroke-width="0.9"/>
<rect x="601.0" y="232.3" width="5.0" height="1.6" fill="#666"/>
<rect x="717.0" y="259.5" width="5.0" height="1.6" fill="#666"/>
<rect x="732.0" y="358.0" width="1.6" height="5.0" fill="#666"/>
<rect x="732.0" y="455.0" width="1.6" height="5.0" fill="#666"/>
<rect x="601.0" y="589.0" width="5.0" height="1.6" fill="#666"/>
<rect x="488.0" y="612.2" width="5.0" height="1.6" fill="#666"/>
<rect x="718.0" y="563.0" width="5.0" height="1.6" fill="#666"/>
<rect x="268.0" y="511.8" width="6.0" height="1.8" fill="#666"/>
<rect x="498.0" y="341.0" width="1.6" height="6.0" fill="#666"/>
<rect x="493.0" y="478.0" width="1.6" height="6.0" fill="#666"/>
<rect x="244" y="189" width="2" height="1.2" fill="#999"/>
<text x="1" y="768" font-size="4.5" fill="#777" font-family="Liberation Serif" style="font-family:'Liberation Serif',serif">Space Coast MLS</text>
<text x="970" y="471" font-size="5" fill="#aaa">- 11</text>
<line x1="514.2" y1="220.0" x2="514.2" y2="238.4" stroke="#444" stroke-width="1.30"/>
<line x1="513.6" y1="584.0" x2="513.6" y2="606.0" stroke="#444" stroke-width="1.30"/>
<rect x="167.4" y="161.8" width="702.6" height="519.7" fill="none" stroke="#5b8db4" stroke-width="8"/>
</svg>
<svg class="disc" width="1024" height="791" viewBox="0 0 1024 791">
<g font-style="italic" font-size="13.8" fill="#52799e" stroke="#52799e" stroke-width="0.3">
<text x="71.7" y="705.6" textLength="889.6" lengthAdjust="spacingAndGlyphs">Developer reserves the right to modify floor plans, elevations, specifications, features and prices without notice. Square footage and room sizes are approximate.</text>
<text x="71.7" y="720.9" textLength="894" lengthAdjust="spacingAndGlyphs">Exterior treatments, window locations and room configurations may vary with elevation. Some decorating treatments in and around the model homes may not be</text>
<text x="71.7" y="736.2" textLength="898" lengthAdjust="spacingAndGlyphs">included in the list price and are for display purposes only. All renderings and floor plans are artistic conceptions and are not intended to be an actual depiction of</text>
<text x="71.7" y="751" textLength="500" lengthAdjust="spacingAndGlyphs">the buildings, fencing, driveways or landscaping. Copyright 2017, Coastmark Construction.</text>
</g>
</svg>
</body></html>
